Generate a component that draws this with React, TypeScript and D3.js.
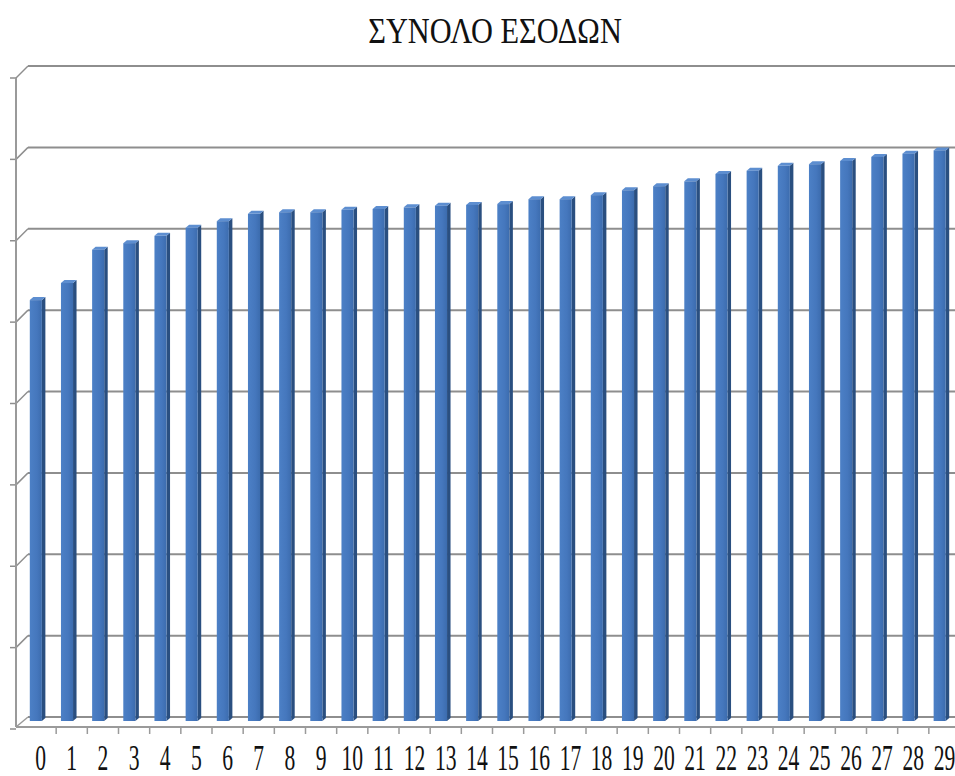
import React from "react";
import * as d3 from "d3";

const TITLE = "ΣΥΝΟΛΟ ΕΣΟΔΩΝ";
const categories = Array.from({ length: 30 }, (_, i) => String(i));
const values = [
  5.16, 5.37, 5.78, 5.86, 5.95, 6.05, 6.13, 6.22, 6.24, 6.24,
  6.27, 6.28, 6.3, 6.32, 6.33, 6.34, 6.4, 6.4, 6.45, 6.51,
  6.56, 6.62, 6.71, 6.75, 6.81, 6.83, 6.87, 6.92, 6.96, 7.0,
];
const yTicks = [0, 1, 2, 3, 4, 5, 6, 7, 8];

const W = 955;
const H = 776;
const DX = 12; // depth offset x
const DY = 10; // depth offset y

export default function App() {
  const x = d3
    .scaleBand<string>()
    .domain(categories)
    .range([22, 957])
    .paddingInner(0.5)
    .paddingOuter(0.25);
  const y = d3.scaleLinear().domain([0, 8]).range([717, 66]);
  const bw = x.bandwidth();
  const front = bw - 3.5;
  const side = 3.5;
  const step = x.step();
  const axisX = 28 - DX;
  const floorFront = y(0) + DY;

  return (
    <svg
      width={W}
      height={H}
      style={{ position: "absolute", left: 0, top: 0, background: "#fff" }}
    >
      <defs>
        <linearGradient id="frontG" x1="0" x2="1" y1="0" y2="0">
          <stop offset="0" stopColor="#4c80c6" />
          <stop offset="0.6" stopColor="#4577bd" />
          <stop offset="1" stopColor="#3c6cae" />
        </linearGradient>
      </defs>
      <text
        transform="translate(495,43) scale(0.92,1.08)"
        textAnchor="middle"
        fontFamily="Liberation Serif, Times New Roman, serif"
        fontSize={33}
        fill="#111"
      >
        {TITLE}
      </text>

      {/* back wall gridlines with left-side bevel */}
      {yTicks.map((t) => {
        const gy = y(t);
        return (
          <g key={t}>
            <line x1={28} x2={W} y1={gy} y2={gy} stroke="#8e8e8e" strokeWidth={2} />
            {t > 0 && (
              <line x1={axisX} y1={gy + DY + 2} x2={28} y2={gy} stroke="#8e8e8e" strokeWidth={1.5} />
            )}
            <line x1={axisX - 6} x2={axisX} y1={gy + DY + 2} y2={gy + DY + 2} stroke="#8e8e8e" strokeWidth={1.5} />
          </g>
        );
      })}
      {/* left axis */}
      <line x1={axisX} x2={axisX} y1={y(8) + DY + 2} y2={floorFront} stroke="#9a9a9a" strokeWidth={2} />
      {/* floor */}
      <line x1={axisX} y1={floorFront} x2={28} y2={y(0)} stroke="#9a9a9a" strokeWidth={1.5} />
      <line x1={axisX} x2={W} y1={floorFront} y2={floorFront} stroke="#9a9a9a" strokeWidth={2} />
      {categories.map((c) => {
        const tx = (x(c) as number) + step - (step - bw) / 2 + 3;
        return (
          <line key={"t" + c} x1={tx} x2={tx} y1={floorFront} y2={floorFront + 7} stroke="#9a9a9a" strokeWidth={1.5} />
        );
      })}

      {/* bars */}
      {values.map((v, i) => {
        const bx = x(categories[i]) as number;
        const top = y(v) + 3;
        const bottom = y(0) + 4;
        return (
          <g key={i}>
            <path
              d={`M${bx + front},${top} L${bx + front + side},${top - 3} L${bx + front + side},${bottom - 3} L${bx + front},${bottom} Z`}
              fill="#2a4f80"
            />
            <path
              d={`M${bx},${top} L${bx + side},${top - 3} L${bx + front + side},${top - 3} L${bx + front},${top} Z`}
              fill="#5d8ed0"
            />
            <rect x={bx} y={top} width={front} height={bottom - top} fill="url(#frontG)" />
          </g>
        );
      })}

      {/* category labels */}
      {categories.map((c) => (
        <text
          key={"l" + c}
          transform={`translate(${(x(c) as number) + bw / 2 + 3},770) scale(0.6,1)`}
          textAnchor="middle"
          fontFamily="Liberation Serif, Times New Roman, serif"
          fontSize={36}
          fill="#111"
        >
          {c}
        </text>
      ))}
    </svg>
  );
}
